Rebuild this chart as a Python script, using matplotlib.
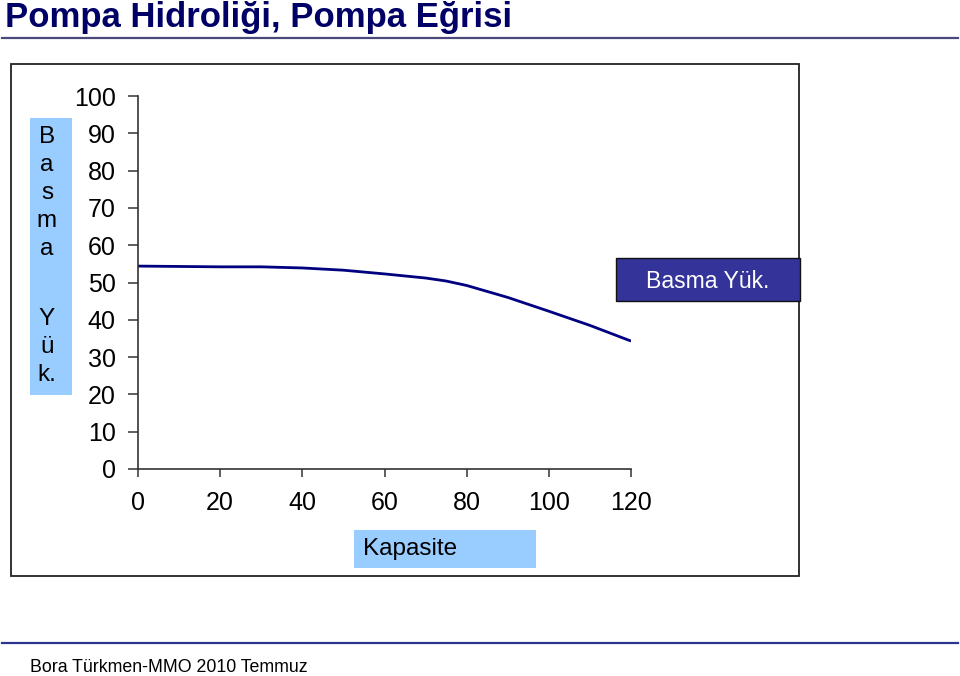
import matplotlib
matplotlib.use("Agg")
import matplotlib.pyplot as plt
from matplotlib.patches import Rectangle
from matplotlib.lines import Line2D

plt.rcParams['font.family'] = ['Liberation Sans', 'DejaVu Sans']

W, H = 960, 676

# pump curve (Kapasite vs Basma Yük.)
kapasite = [0, 10, 20, 30, 40, 50, 60, 70, 75, 80, 90, 100, 110, 120]
basma_yuk = [54.4, 54.3, 54.2, 54.2, 53.9, 53.3, 52.3, 51.2, 50.4, 49.2, 46.0, 42.3, 38.5, 34.3]

x_ticks = [0, 20, 40, 60, 80, 100, 120]
y_ticks = list(range(0, 101, 10))

title = "Pompa Hidroliği, Pompa Eğrisi"
footer = "Bora Türkmen-MMO 2010 Temmuz"
series_name = "Basma Yük."
x_name = "Kapasite"
y_letters_top = ["B", "a", "s", "m", "a"]
y_letters_bot = ["Y", "ü", "k."]


def fx(px):
    return px / W


def fy(py):
    return 1 - py / H


fig = plt.figure(figsize=(W / 100, H / 100), dpi=100)
fig.patch.set_facecolor('white')

# title + rules
fig.text(fx(5), fy(27), title, fontsize=25, fontweight='bold', color='#000066',
         ha='left', va='baseline')
fig.add_artist(Line2D([fx(2), fx(958)], [fy(38), fy(38)], color='#4a4a7a', lw=1.6))
fig.add_artist(Line2D([fx(2), fx(958)], [fy(643), fy(643)], color='#2b3590', lw=1.6))
fig.text(fx(30), fy(668), footer, fontsize=12.8, color='black', ha='left', va='center')

# chart frame
fig.add_artist(Rectangle((fx(11), fy(576)), fx(799) - fx(11), fy(64) - fy(576),
                         fill=False, edgecolor='#222222', lw=1.3))

ax = fig.add_axes([fx(138), fy(469), fx(631) - fx(138), fy(96) - fy(469)])
ax.plot(kapasite, basma_yuk, color='#000080', lw=2.0, solid_capstyle='butt')
ax.set_xlim(0, 120)
ax.set_ylim(0, 100)
ax.set_xticks(x_ticks)
ax.set_yticks(y_ticks)
for s in ['top', 'right']:
    ax.spines[s].set_visible(False)
for s in ['left', 'bottom']:
    ax.spines[s].set_color('#333333')
    ax.spines[s].set_linewidth(1.2)
ax.tick_params(axis='y', direction='out', length=7, width=1.1, pad=9,
               labelsize=18, colors='#333333', labelcolor='black')
ax.tick_params(axis='x', direction='out', length=6, width=1.1, pad=10,
               labelsize=18, colors='#333333', labelcolor='black')
ax.patch.set_alpha(0)

# y-axis title box
fig.add_artist(Rectangle((fx(30), fy(395)), fx(72) - fx(30), fy(118) - fy(395),
                         facecolor='#99ccff', edgecolor='none'))
for i, ch in enumerate(y_letters_top):
    fig.text(fx(47), fy(137 + 28 * i), ch, fontsize=17.5, ha='center', va='center')
for i, ch in enumerate(y_letters_bot):
    fig.text(fx(47), fy(319 + 28 * i), ch, fontsize=17.5, ha='center', va='center')

# x-axis title box
fig.add_artist(Rectangle((fx(354), fy(568)), fx(536) - fx(354), fy(530) - fy(568),
                         facecolor='#99ccff', edgecolor='none'))
fig.text(fx(363), fy(549), x_name, fontsize=17.5, ha='left', va='center')

# legend box
fig.add_artist(Rectangle((fx(616), fy(301)), fx(800) - fx(616), fy(258) - fy(301),
                         facecolor='#333399', edgecolor='#111111', lw=1.0))
fig.text(fx(708), fy(281), series_name, fontsize=16.6, color='white', ha='center', va='center')

fig.savefig("out.png", dpi=100)
